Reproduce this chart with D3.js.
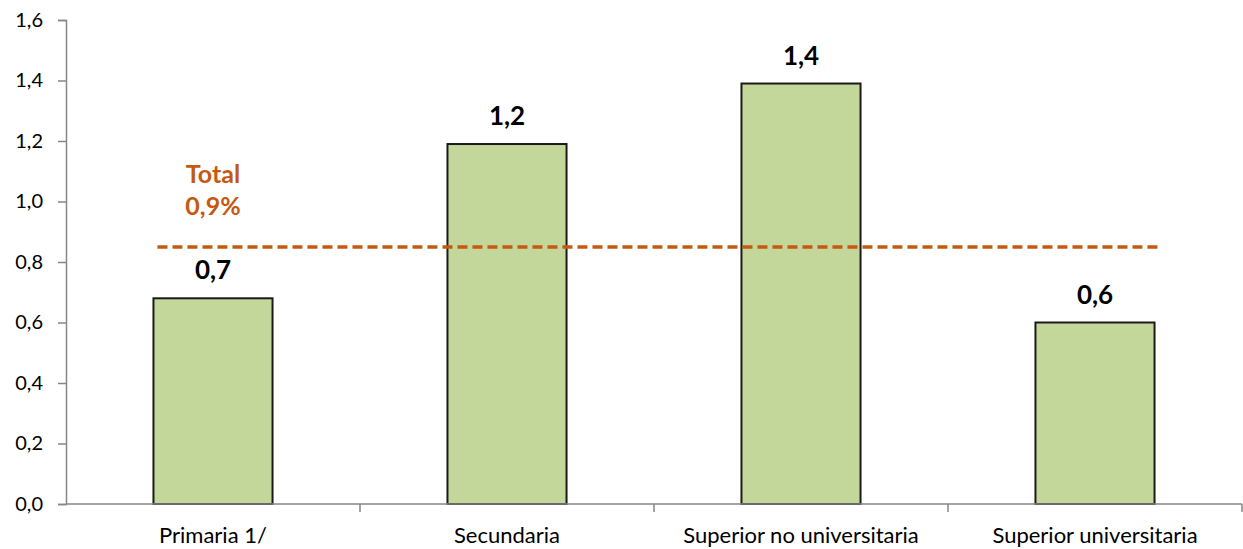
<!DOCTYPE html>
<html>
<head>
<meta charset="utf-8">
<script src="https://cdn.jsdelivr.net/npm/d3@7"></script>
<style>
  html, body { margin: 0; padding: 0; background: #fff; }
  svg { display: block; }
  text { font-family: Lato, "Liberation Sans", sans-serif; }
</style>
</head>
<body>
<svg id="chart" width="1243" height="549"></svg>
<script>
// Education level categories and their rates (%)
const categories = ["Primaria 1/", "Secundaria", "Superior no universitaria", "Superior universitaria"];
const values = [0.68, 1.19, 1.39, 0.60];
// Overall rate, shown as a dashed reference line
const totalValue = 0.85;
const totalTitle = "Total";
// Y-axis tick values
const yTicks = [0, 0.2, 0.4, 0.6, 0.8, 1.0, 1.2, 1.4, 1.6];

const width = 1243, height = 549;
const margin = { top: 20, right: 1, bottom: 45, left: 66 };

const svg = d3.select("#chart");
const comma = v => d3.format(".1f")(v).replace(".", ",");
const round1 = v => Math.round(v * 10) / 10;

const x = d3.scaleBand()
  .domain(categories)
  .range([margin.left, width - margin.right])
  .paddingInner(0.595)
  .paddingOuter(0.2975);

const xBand = d3.scaleBand()
  .domain(categories)
  .range([margin.left, width - margin.right])
  .padding(0);

const y = d3.scaleLinear()
  .domain([0, 1.6])
  .range([height - margin.bottom, margin.top]);

const axisColor = "#868686";

// Y axis
const yAxis = svg.append("g")
  .attr("transform", `translate(${margin.left},0)`)
  .call(d3.axisLeft(y).tickValues(yTicks).tickSize(8).tickPadding(15).tickFormat(comma));
yAxis.select(".domain").attr("stroke", axisColor).attr("stroke-width", 1.5);
yAxis.selectAll(".tick line").attr("stroke", axisColor).attr("stroke-width", 1.5);
yAxis.selectAll(".tick text")
  .attr("fill", "#000")
  .style("font-size", "20px");

// Bars
svg.append("g")
  .selectAll("rect")
  .data(values)
  .join("rect")
  .attr("x", (d, i) => x(categories[i]))
  .attr("y", d => y(d))
  .attr("width", x.bandwidth())
  .attr("height", d => y(0) - y(d))
  .attr("fill", "#C4D79B")
  .attr("stroke", "#1a1a1a")
  .attr("stroke-width", 2);

// X axis with ticks between categories
const xAxisG = svg.append("g").attr("transform", `translate(0,${y(0)})`);
xAxisG.append("line")
  .attr("x1", margin.left).attr("x2", width - margin.right)
  .attr("stroke", axisColor).attr("stroke-width", 1.5);
xAxisG.selectAll("line.sep")
  .data(categories)
  .join("line")
  .attr("class", "sep")
  .attr("x1", d => xBand(d) + xBand.bandwidth())
  .attr("x2", d => xBand(d) + xBand.bandwidth())
  .attr("y1", 0).attr("y2", 8)
  .attr("stroke", axisColor).attr("stroke-width", 1.5);
xAxisG.selectAll("text")
  .data(categories)
  .join("text")
  .attr("x", d => xBand(d) + xBand.bandwidth() / 2)
  .attr("y", 39)
  .attr("text-anchor", "middle")
  .attr("fill", "#000")
  .style("font-size", "22px")
  .text(d => d);

// Value labels above bars
svg.append("g")
  .selectAll("text")
  .data(values)
  .join("text")
  .attr("x", (d, i) => x(categories[i]) + x.bandwidth() / 2)
  .attr("y", d => y(d) - 19)
  .attr("text-anchor", "middle")
  .attr("fill", "#000")
  .style("font-size", "26px")
  .style("font-weight", "bold")
  .text(d => comma(round1(d)));

// Total reference line
const totalColor = "#C65911";
svg.append("line")
  .attr("x1", x(categories[0]) + 4)
  .attr("x2", x(categories[categories.length - 1]) + x.bandwidth() + 7)
  .attr("y1", y(totalValue)).attr("y2", y(totalValue))
  .attr("stroke", totalColor)
  .attr("stroke-width", 3.5)
  .attr("stroke-dasharray", "10,5");

const totalLabel = svg.append("text")
  .attr("x", xBand(categories[0]) + xBand.bandwidth() / 2)
  .attr("text-anchor", "middle")
  .attr("fill", totalColor)
  .style("font-size", "25px")
  .style("font-weight", "bold");
totalLabel.append("tspan")
  .attr("x", xBand(categories[0]) + xBand.bandwidth() / 2)
  .attr("y", 183)
  .text(totalTitle);
totalLabel.append("tspan")
  .attr("x", xBand(categories[0]) + xBand.bandwidth() / 2)
  .attr("y", 215)
  .text(comma(round1(totalValue)) + "%");
</script>
</body>
</html>
